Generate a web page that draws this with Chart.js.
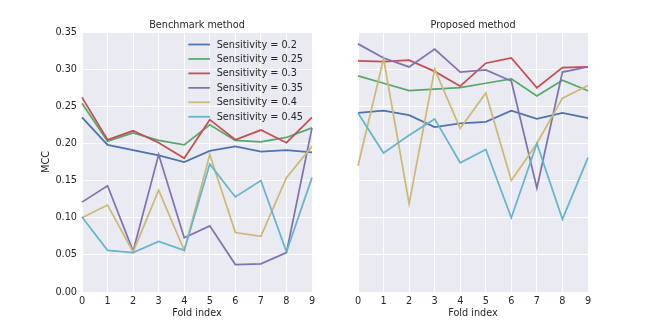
<!DOCTYPE html>
<html><head><meta charset="utf-8">
<script src="https://cdn.jsdelivr.net/npm/chart.js@4/dist/chart.umd.min.js"></script>
<style>
html,body{margin:0;padding:0;background:#fff;}
#wrap{position:relative;width:654px;height:325px;}
#wrap canvas{position:absolute;left:0;top:0;}
</style></head>
<body><div id="wrap"><canvas id="c1" width="654" height="325"></canvas><canvas id="c2" width="654" height="325"></canvas></div>
<script>
const folds = ['0','1','2','3','4','5','6','7','8','9'];
const seriesNames = ['Sensitivity = 0.2','Sensitivity = 0.25','Sensitivity = 0.3','Sensitivity = 0.35','Sensitivity = 0.4','Sensitivity = 0.45'];
const seriesColors = ['#4C72B0','#55A868','#C44E52','#8172B2','#CCB974','#64B5CD'];
const panelTitles = ['Benchmark method','Proposed method'];
const yTickLabels = ['0.00','0.05','0.10','0.15','0.20','0.25','0.30','0.35'];

const bench02  = [0.235,0.198,0.191,0.184,0.175,0.190,0.196,0.189,0.191,0.188];
const bench025 = [0.254,0.203,0.214,0.204,0.198,0.225,0.204,0.202,0.208,0.221];
const bench03  = [0.262,0.205,0.217,0.201,0.180,0.232,0.205,0.218,0.201,0.235];
const bench035 = [0.121,0.143,0.055,0.185,0.073,0.089,0.037,0.038,0.053,0.221];
const bench04  = [0.100,0.117,0.054,0.137,0.056,0.185,0.080,0.075,0.154,0.196];
const bench045 = [0.101,0.056,0.053,0.068,0.056,0.172,0.128,0.150,0.054,0.154];

const prop02  = [0.241,0.244,0.238,0.222,0.227,0.229,0.244,0.233,0.241,0.234];
const prop025 = [0.291,0.281,0.271,0.273,0.275,0.281,0.287,0.264,0.285,0.271];
const prop03  = [0.311,0.310,0.312,0.297,0.277,0.308,0.315,0.275,0.302,0.303];
const prop035 = [0.334,0.315,0.303,0.327,0.296,0.299,0.284,0.140,0.296,0.303];
const prop04  = [0.170,0.314,0.119,0.300,0.220,0.268,0.150,0.200,0.261,0.278];
const prop045 = [0.241,0.187,0.211,0.233,0.174,0.192,0.100,0.200,0.098,0.181];

const benchSeries = [bench02,bench025,bench03,bench035,bench04,bench045];
const propSeries = [prop02,prop025,prop03,prop035,prop04,prop045];

const FONT = '"DejaVu Sans", sans-serif';
const TXT = '#262626';
const FS = 9.7;

function makeDatasets(series){
  return series.map((d,i)=>({
    label: seriesNames[i], data: d, borderColor: seriesColors[i], backgroundColor: seriesColors[i],
    borderWidth: 1.75, pointRadius: 0, tension: 0, fill: false, order: series.length - i
  }));
}

const bgPlugin = {
  id:'bg',
  beforeDraw(chart){
    const {ctx, chartArea:a} = chart;
    ctx.save(); ctx.fillStyle='#EAEAF2'; ctx.fillRect(a.left,a.top,a.right-a.left,a.bottom-a.top); ctx.restore();
  },
  afterDraw(chart, args, opts){
    const {ctx, chartArea:a} = chart;
    ctx.save();
    ctx.fillStyle = TXT; ctx.font = FS+'px '+FONT; ctx.textAlign='center'; ctx.textBaseline='middle';
    ctx.fillText(opts.title, (a.left+a.right)/2, 25.7);
    if (opts.legend){
      chart.data.datasets.forEach((ds,i)=>{
        const y = 44.5 + i*14.45;
        ctx.strokeStyle = ds.borderColor; ctx.lineWidth = 1.75;
        ctx.beginPath(); ctx.moveTo(188.3,y); ctx.lineTo(210,y); ctx.stroke();
        ctx.fillStyle = TXT; ctx.textAlign='left';
        ctx.fillText(ds.label, 216.7, y+0.5);
      });
    }
    ctx.restore();
  }
};

function makeChart(id, series, title, showY, left, right){
  return new Chart(document.getElementById(id), {
    type:'line',
    data:{labels: folds, datasets: makeDatasets(series)},
    plugins:[bgPlugin],
    options:{
      responsive:false, animation:false, devicePixelRatio:1,
      layout:{padding:{left:0, right:654-right, top:32, bottom:0}},
      plugins:{legend:{display:false}, tooltip:{enabled:false}, title:{display:false},
        bg:{title:title, legend: showY}},
      scales:{
        x:{
          offset:false,
          grid:{color:'#ffffff', lineWidth:1, drawTicks:false},
          border:{display:false},
          ticks:{color:TXT, font:{family:FONT,size:FS}, padding:4, maxRotation:0, autoSkip:false},
          title:{display:true, text:'Fold index', color:TXT, font:{family:FONT,size:FS}, padding:{top:0,bottom:6.2}},
          afterFit(s){ s.height = 33; }
        },
        y:{
          min:0, max:0.35,
          grid:{color:'#ffffff', lineWidth:1, drawTicks:false},
          border:{display:false},
          ticks:{display:showY, stepSize:0.05, color:TXT, font:{family:FONT,size:FS}, padding:5,
            callback:(v)=>yTickLabels[Math.round(v/0.05)]},
          title:{display:showY, text:'MCC', color:TXT, font:{family:FONT,size:FS}, padding:{top:41,bottom:0}},
          afterFit(s){ s.width = left; }
        }
      }
    }
  });
}

makeChart('c1', benchSeries, panelTitles[0], true, 82, 312);
makeChart('c2', propSeries, panelTitles[1], false, 358, 588);
</script>
</body></html>
